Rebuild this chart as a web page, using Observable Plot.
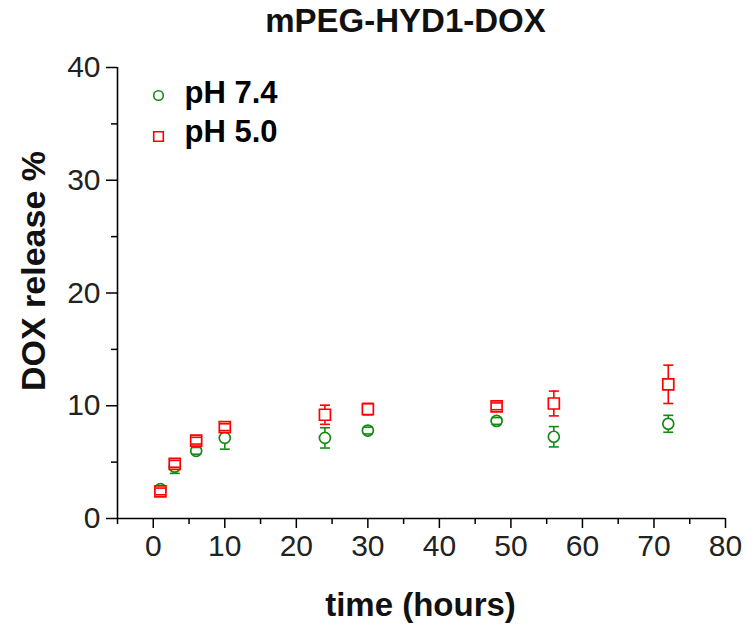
<!DOCTYPE html>
<html>
<head>
<meta charset="utf-8">
<script src="https://cdn.jsdelivr.net/npm/d3@7"></script>
<script src="https://cdn.jsdelivr.net/npm/@observablehq/plot@0.6"></script>
<style>
  html, body { margin: 0; padding: 0; background: #fff; }
  #chart svg { display: block; }
</style>
</head>
<body>
<div id="chart"></div>
<script>
// ---- data ----
const times = [1, 3, 6, 10, 24, 30, 48, 56, 72];
const ph74 = [2.6, 4.6, 6.0, 7.15, 7.15, 7.8, 8.65, 7.25, 8.4];
const ph74Err = [0.2, 0.6, 0.3, 1.0, 0.9, 0.3, 0.3, 0.9, 0.75];
const ph50 = [2.4, 4.85, 6.9, 8.1, 9.2, 9.7, 9.95, 10.2, 11.9];
const ph50Err = [0.3, 0.3, 0.3, 0.3, 0.85, 0.5, 0.3, 1.1, 1.7];
const xMajor = [0, 10, 20, 30, 40, 50, 60, 70, 80];
const xMinor = [-5, 5, 15, 25, 35, 45, 55, 65, 75];
const yMajor = [0, 10, 20, 30, 40];
const yMinor = [5, 15, 25, 35];
const seriesNames = ["pH 7.4", "pH 5.0"];
const titleText = "mPEG-HYD1-DOX";
const xLabel = "time (hours)";
const yLabel = "DOX release %";

const GREEN = "#138a13";
const RED = "#ff0000";
const FONT = "'Liberation Sans', Arial, sans-serif";

const rows74 = times.map((t, i) => ({t, v: ph74[i], lo: ph74[i] - ph74Err[i], hi: ph74[i] + ph74Err[i]}));
const rows50 = times.map((t, i) => ({t, v: ph50[i], lo: ph50[i] - ph50Err[i], hi: ph50[i] + ph50Err[i]}));
const caps = (rows) => rows.flatMap(d => [{t: d.t, y: d.lo}, {t: d.t, y: d.hi}]);

const capSymbol = { draw(ctx, size) { ctx.moveTo(-5, 0); ctx.lineTo(5, 0); } };

function series(rows, color, symbol, r) {
  return [
    Plot.ruleX(rows, {x: "t", y1: "lo", y2: "hi", stroke: color, strokeWidth: 1.6}),
    Plot.dot(rows, {x: "t", y: "v", symbol, r, stroke: color, fill: "white", strokeWidth: 1.7}),
    Plot.dot(caps(rows), {x: "t", y: "y", symbol: capSymbol, stroke: color, strokeWidth: 1.6})
  ];
}

const chart = Plot.plot({
  width: 747,
  height: 630,
  marginLeft: 117,
  marginRight: 22,
  marginTop: 67,
  marginBottom: 112,
  style: {fontFamily: FONT, background: "white", overflow: "visible"},
  x: {domain: [-5, 80]},
  y: {domain: [0, 40]},
  marks: [
    Plot.axisX({ticks: xMajor, tickSize: 10, tickPadding: 6, fontSize: 30, color: "#222", stroke: "black", strokeWidth: 1.5, label: null}),
    Plot.axisX({ticks: xMinor, tickSize: 6, text: null, stroke: "black", strokeWidth: 1.5, label: null}),
    Plot.axisY({ticks: yMajor, tickSize: 11, tickPadding: 6, fontSize: 30, color: "#222", stroke: "black", strokeWidth: 1.5, label: null}),
    Plot.axisY({ticks: yMinor, tickSize: 6, text: null, stroke: "black", strokeWidth: 1.5, label: null}),
    Plot.ruleY([0], {stroke: "black", strokeWidth: 1.6}),
    Plot.ruleX([-5], {stroke: "black", strokeWidth: 1.6}),
    ...series(rows74, GREEN, "circle", 5.5),
    ...series(rows50, RED, "square", 6.2),
    // legend
    Plot.dot([0], {frameAnchor: "top-left", dx: 41, dy: 28, symbol: "circle", r: 4.8, stroke: GREEN, fill: "white", strokeWidth: 1.6}),
    Plot.dot([0], {frameAnchor: "top-left", dx: 41, dy: 69, symbol: "square", r: 5.4, stroke: RED, fill: "white", strokeWidth: 1.6}),
    Plot.text([seriesNames[0]], {frameAnchor: "top-left", dx: 67, dy: 26, text: d => d, textAnchor: "start", lineAnchor: "middle", fontSize: 31, fontWeight: "bold", fill: "black"}),
    Plot.text([seriesNames[1]], {frameAnchor: "top-left", dx: 67, dy: 65, text: d => d, textAnchor: "start", lineAnchor: "middle", fontSize: 31, fontWeight: "bold", fill: "black"}),
    // title & axis labels
    Plot.text([titleText], {frameAnchor: "top", dx: -16, dy: -46, text: d => d, textAnchor: "middle", lineAnchor: "middle", fontSize: 33, fontWeight: "bold", fill: "#111"}),
    Plot.text([xLabel], {frameAnchor: "bottom", dx: -1, dy: 87, text: d => d, textAnchor: "middle", lineAnchor: "middle", fontSize: 33, fontWeight: "bold", fill: "#111"}),
    Plot.text([yLabel], {frameAnchor: "left", dx: -83, dy: -22, rotate: -90, text: d => d, textAnchor: "middle", lineAnchor: "middle", fontSize: 34, fontWeight: "bold", fill: "#111"})
  ]
});
document.getElementById("chart").appendChild(chart);
</script>
</body>
</html>
